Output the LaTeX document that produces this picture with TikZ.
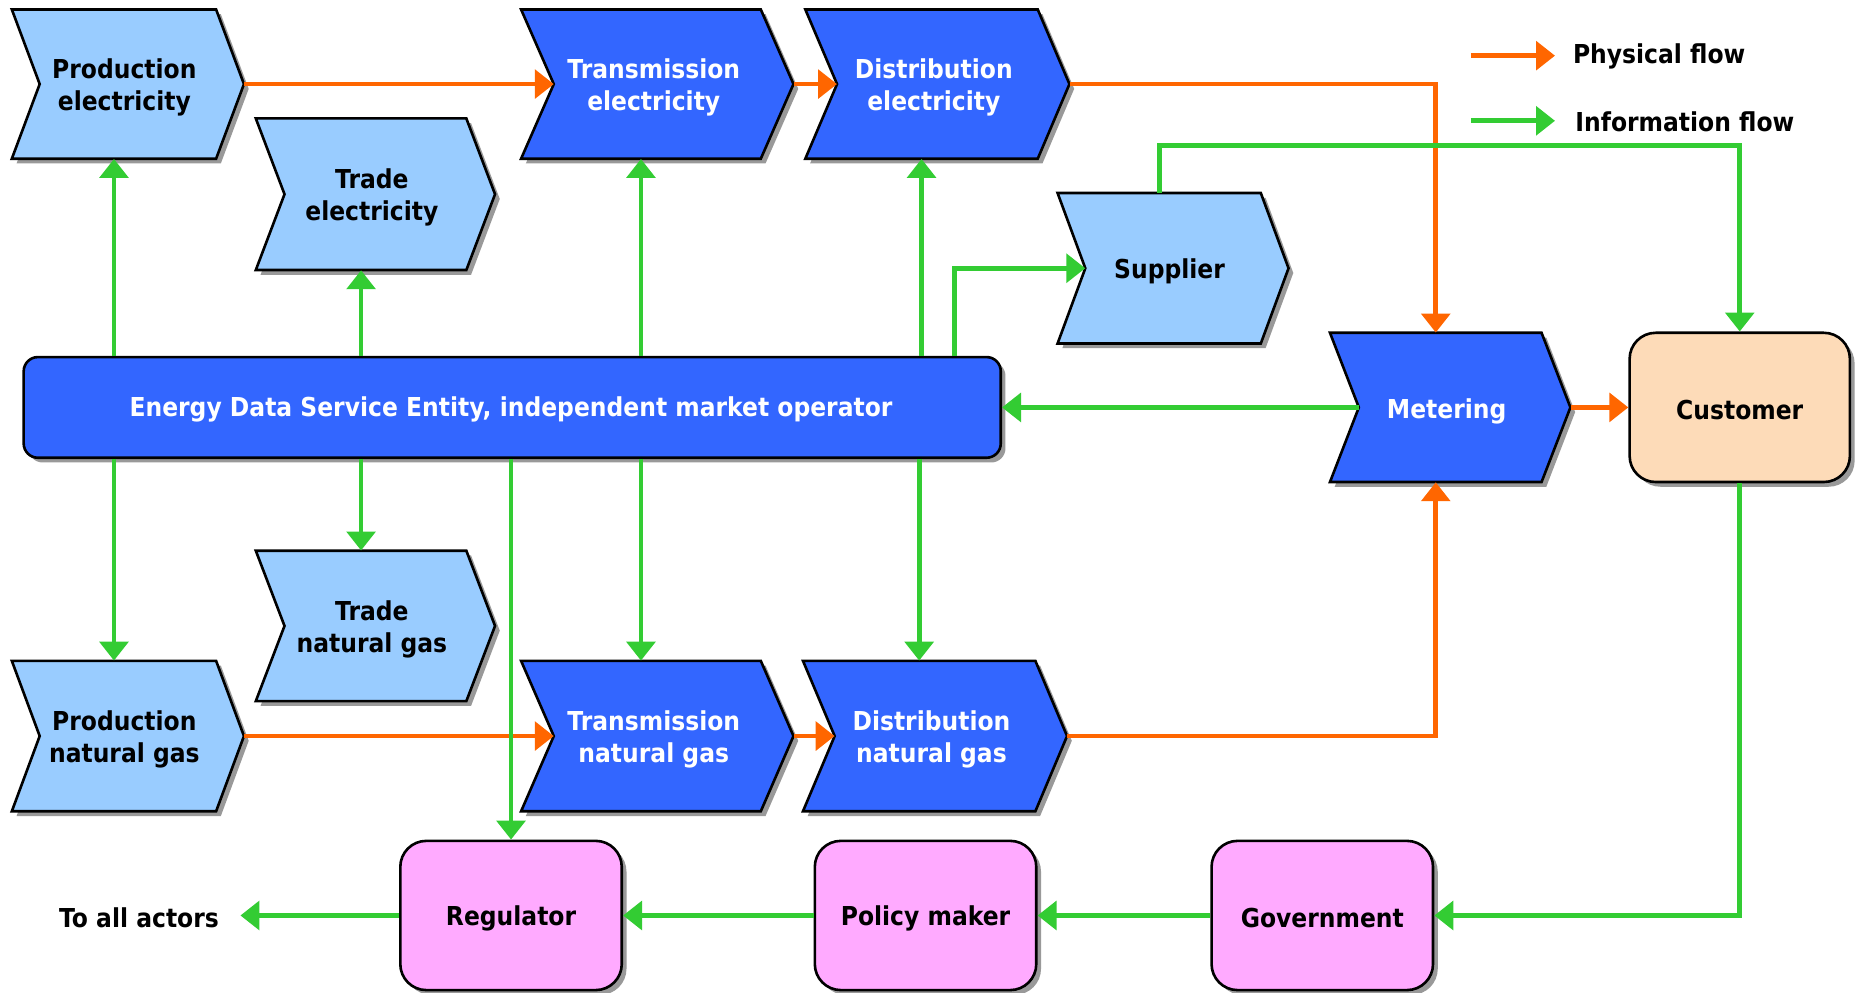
\documentclass[tikz,border=0pt]{standalone}
\usepackage{fontspec}
\setmainfont{DejaVu Sans}[FakeStretch=0.9]
\usetikzlibrary{arrows.meta,shadows,calc}
\definecolor{lblue}{HTML}{99CCFF}
\definecolor{dblue}{HTML}{3366FF}
\definecolor{peach}{HTML}{FDDBB8}
\definecolor{pinkc}{HTML}{FFAAFF}
\definecolor{orangec}{HTML}{FF6600}
\definecolor{greenc}{HTML}{33CC33}
\definecolor{shadowc}{HTML}{999999}
\newcommand{\mainf}{\fontsize{22}{27}\selectfont\bfseries}
\tikzset{
  lbl/.style={inner sep=0pt, align=center, font=\mainf},
  rbox/.style={draw=black, line width=2.2pt, rounded corners=22pt, inner sep=0pt,
     drop shadow={shadow xshift=4pt, shadow yshift=-4pt, fill=shadowc, opacity=1}},
  phys/.style={draw=orangec, line width=4pt, -{Triangle[length=16pt,width=24pt]}},
  info/.style={draw=greenc, line width=4pt, -{Triangle[length=16pt,width=24pt]}}
}
\newcommand{\chev}[8]{%
  \pgfmathsetmacro\chD{0.12*(#4-#2)}%
  \pgfmathsetmacro\chY{(#3+#5)/2}%
  \pgfmathsetmacro\chX{(#2+#4)/2}%
  \pgfmathsetmacro\chW{#4-#2}%
  \pgfmathsetmacro\chH{#5-#3}%
  \fill[shadowc] ({#2+4},{#3+4}) -- ({#4-\chD+4},{#3+4}) -- ({#4+4},{\chY+4}) -- ({#4-\chD+4},{#5+4}) -- ({#2+4},{#5+4}) -- ({#2+\chD+4},{\chY+4}) -- cycle;
  \filldraw[fill=#6, draw=black, line width=2.2pt, line join=miter] (#2,#3) -- ({#4-\chD},#3) -- (#4,\chY) -- ({#4-\chD},#5) -- (#2,#5) -- ({#2+\chD},\chY) -- cycle;
  \node[inner sep=0pt, minimum width=\chW pt, minimum height=\chH pt] (#1) at (\chX,\chY) {};
  \node[lbl, text=#7] (#1-t) at ({\chX-3},{\chY+3}) {#8};
  \coordinate (#1-in) at ({#2+\chD},\chY);
  \coordinate (#1-c) at ({#2+(\chW-\chD)/2},\chY);
}
\begin{document}
\begin{tikzpicture}[x=1pt,y=-1pt]
\fill[white] (0,0) rectangle (1568,838);
\useasboundingbox (0,0) rectangle (1568,838);

% chevrons
\chev{pe}{10}{8}{206}{134}{lblue}{black}{Production\\electricity}
\chev{tre}{216}{100}{418}{228}{lblue}{black}{Trade\\electricity}
\chev{te}{440}{8}{670}{134}{dblue}{white}{Transmission\\electricity}
\chev{de}{680}{8}{903}{134}{dblue}{white}{Distribution\\electricity}
\chev{sup}{893}{163}{1088}{290}{lblue}{black}{Supplier}
\chev{met}{1123}{281}{1326}{407}{dblue}{white}{Metering}
\chev{trg}{216}{465}{418}{592}{lblue}{black}{Trade\\natural gas}
\chev{pg}{10}{558}{206}{685}{lblue}{black}{Production\\natural gas}
\chev{tg}{440}{558}{670}{685}{dblue}{white}{Transmission\\natural gas}
\chev{dg}{678}{558}{901}{685}{dblue}{white}{Distribution\\natural gas}

% rounded boxes
\node[rbox, fill=dblue, rounded corners=12pt, minimum width=825pt, minimum height=85pt] (edse) at (432.5,344) {};
\node[lbl, text=white] (edse-t) at (431.5,346) {Energy Data Service Entity, independent market operator};
\node[rbox, fill=peach, minimum width=186pt, minimum height=126pt] (cust) at (1469,344) {};
\node[lbl] (cust-t) at (1469,346.5) {Customer};
\node[rbox, fill=pinkc, minimum width=187pt, minimum height=126pt] (reg) at (431.5,773) {};
\node[lbl] (reg-t) at (431.5,775.5) {Regulator};
\node[rbox, fill=pinkc, minimum width=187pt, minimum height=126pt] (pol) at (781.5,773) {};
\node[lbl] (pol-t) at (781.5,775.5) {Policy maker};
\node[rbox, fill=pinkc, minimum width=187pt, minimum height=126pt] (gov) at (1116.5,773) {};
\node[lbl] (gov-t) at (1116.5,775.5) {Government};
\node[lbl, anchor=east] (toall) at (185,775) {To all actors};

% legend
\coordinate (l1a) at (1242,47); \coordinate (l1b) at (1313,47);
\coordinate (l2a) at (1242,102); \coordinate (l2b) at (1313,102);
\draw[phys] (l1a) -- (l1b);
\draw[info] (l2a) -- (l2b);
\node[lbl, anchor=west] (l1t) at (1328,48) {Physical flow};
\node[lbl, anchor=west] (l2t) at (1330,103) {Information flow};

% physical flows
\draw[phys] (pe.east) -- (te-in);
\draw[phys] (te.east) -- (de-in);
\draw[phys] (de.east) -| (met-c |- met.north);
\draw[phys] (pg.east) -- (tg-in);
\draw[phys] (tg.east) -- (dg-in);
\draw[phys] (dg.east) -| (met-c |- met.south);
\draw[phys] (met.east) -- (cust.west);

% information flows
\coordinate (infoY) at (0,123);
\draw[info] (pe-c |- edse.north) -- (pe-c |- pe.south);
\draw[info] (tre-c |- edse.north) -- (tre-c |- tre.south);
\draw[info] (te-c |- edse.north) -- (te-c |- te.south);
\draw[info] (de-c |- edse.north) -- (de-c |- de.south);
\draw[info] ([xshift=-40pt]edse.north east) |- (sup-in);
\draw[info] (sup-c |- sup.north) -- (sup-c |- infoY) -| (cust.north);
\draw[info] (met-in) -- (edse.east |- met-in);
\draw[info] (pg-c |- edse.south) -- (pg-c |- pg.north);
\draw[info] (trg-c |- edse.south) -- (trg-c |- trg.north);
\draw[info] (reg.north |- edse.south) -- (reg.north);
\draw[info] (tg-c |- edse.south) -- (tg-c |- tg.north);
\draw[info] (dg-c |- edse.south) -- (dg-c |- dg.north);
\draw[info] (cust.south) |- (gov.east);
\draw[info] (gov.west) -- (pol.east);
\draw[info] (pol.west) -- (reg.east);
\draw[info] (reg.west) -- ([xshift=18pt]toall.east |- reg.west);
\end{tikzpicture}
\end{document}
